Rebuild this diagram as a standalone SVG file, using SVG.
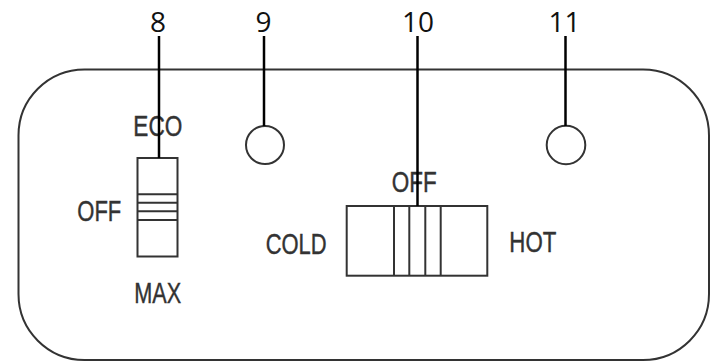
<svg xmlns="http://www.w3.org/2000/svg" width="716" height="363" viewBox="0 0 716 363">
<style>
.ol{fill:none;stroke:#333;stroke-width:2}
.ld{fill:none;stroke:#000;stroke-width:2.5}
.lb{font-family:"Liberation Sans",Arial,sans-serif;font-size:29px;fill:#333;stroke:#333;stroke-width:0.4}
.num{font-family:"Open Sans","DejaVu Sans",sans-serif;font-size:28px;fill:#111;text-anchor:middle}
</style>
<rect width="716" height="363" fill="#fff"/>
<g id="panel">
<rect class="ol" x="18.5" y="69.5" width="690.5" height="290.5" rx="66" ry="66"/>
</g>
<g id="slider-8">
<rect class="ol" x="137.5" y="158" width="40" height="98.5"/>
<line class="ol" x1="137.5" y1="194.3" x2="177.5" y2="194.3"/>
<line class="ol" x1="137.5" y1="202.7" x2="177.5" y2="202.7"/>
<line class="ol" x1="137.5" y1="211.3" x2="177.5" y2="211.3"/>
<line class="ol" x1="137.5" y1="220" x2="177.5" y2="220"/>
<text class="lb" x="133.3" y="136" textLength="49" lengthAdjust="spacingAndGlyphs">ECO</text>
<text class="lb" x="77.3" y="220.7" textLength="44" lengthAdjust="spacingAndGlyphs">OFF</text>
<text class="lb" x="134.3" y="303.3" textLength="47" lengthAdjust="spacingAndGlyphs">MAX</text>
</g>
<g id="lamp-9">
<circle class="ol" cx="265" cy="145" r="19"/>
</g>
<g id="switch-10">
<rect class="ol" x="346.7" y="206" width="140.6" height="69.7"/>
<line class="ol" x1="394" y1="206" x2="394" y2="275.7"/>
<line class="ol" x1="409.3" y1="206" x2="409.3" y2="275.7"/>
<line class="ol" x1="425.3" y1="206" x2="425.3" y2="275.7"/>
<line class="ol" x1="440.7" y1="206" x2="440.7" y2="275.7"/>
<text class="lb" x="391.7" y="191.7" textLength="45" lengthAdjust="spacingAndGlyphs">OFF</text>
<text class="lb" x="265.7" y="254" textLength="61" lengthAdjust="spacingAndGlyphs">COLD</text>
<text class="lb" x="509.3" y="252.3" textLength="47" lengthAdjust="spacingAndGlyphs">HOT</text>
</g>
<g id="lamp-11">
<circle class="ol" cx="566" cy="145" r="19.3"/>
</g>
<g id="connectors">
<line class="ld" x1="159" y1="36" x2="159" y2="158"/>
<line class="ld" x1="264" y1="36" x2="264" y2="126"/>
<line class="ld" x1="417.5" y1="36" x2="417.5" y2="206"/>
<line class="ld" x1="565.5" y1="36" x2="565.5" y2="126"/>
</g>
<g id="labels">
<text class="num" x="158" y="31.5">8</text>
<text class="num" x="263.5" y="31.5">9</text>
<text class="num" x="418" y="31.5">10</text>
<text class="num" x="564.5" y="31.5">11</text>
</g>
</svg>
